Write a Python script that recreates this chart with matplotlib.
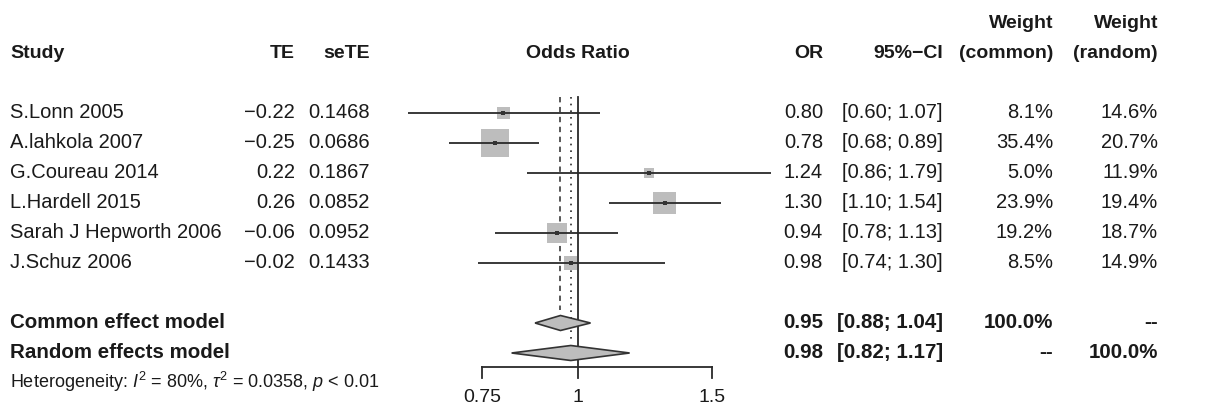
import matplotlib
matplotlib.use("Agg")
import matplotlib.pyplot as plt
import numpy as np

# ---------------- data ----------------
studies = ["S.Lonn 2005", "A.lahkola 2007", "G.Coureau 2014", "L.Hardell 2015",
           "Sarah J Hepworth 2006", "J.Schuz 2006"]
te = ["\u22120.22", "\u22120.25", "0.22", "0.26", "\u22120.06", "\u22120.02"]
sete = ["0.1468", "0.0686", "0.1867", "0.0852", "0.0952", "0.1433"]
or_est = [0.80, 0.78, 1.24, 1.30, 0.94, 0.98]
or_lo = [0.60, 0.68, 0.86, 1.10, 0.78, 0.74]
or_hi = [1.07, 0.89, 1.79, 1.54, 1.13, 1.30]
w_common = [8.1, 35.4, 5.0, 23.9, 19.2, 8.5]
w_random = [14.6, 20.7, 11.9, 19.4, 18.7, 14.9]

common = {"label": "Common effect model", "est": 0.95, "lo": 0.88, "hi": 1.04,
          "wc": "100.0%", "wr": "--"}
random_ = {"label": "Random effects model", "est": 0.98, "lo": 0.82, "hi": 1.17,
           "wc": "--", "wr": "100.0%"}
het_text = r"Heterogeneity: $I^2$ = 80%, $\tau^2$ = 0.0358, $p$ < 0.01"
ticks = [0.75, 1, 1.5]
tick_labels = ["0.75", "1", "1.5"]

# ---------------- style ----------------
plt.rcParams["font.family"] = ["Liberation Sans", "DejaVu Sans"]
plt.rcParams["mathtext.fontset"] = "custom"
plt.rcParams["mathtext.rm"] = "Liberation Sans"
plt.rcParams["mathtext.it"] = "Liberation Sans:italic"
plt.rcParams["mathtext.bf"] = "Liberation Sans:bold"

W, H = 1211, 408
fig = plt.figure(figsize=(W / 100, H / 100), dpi=100)
ax = fig.add_axes([0, 0, 1, 1])
ax.set_xscale("log")
# pixel layout: OR=1 at x=577.5 px, 332 px per log unit; row 0 at y=113 px, 30 px per row
ax.set_xlim(np.exp((0 - 577.5) / 332), np.exp((W - 577.5) / 332))
ax.set_ylim((H - 113) / 30, (0 - 113) / 30)
ax.axis("off")

FS = 14.5
FSH = 14
tc = "#1a1a1a"
lc = "#2a2a2a"
yt = ax.get_yaxis_transform()

def px(x):
    return x / W

col_te, col_se, col_or, col_ci, col_wc, col_wr = px(295), px(370), px(823), px(943), px(1053), px(1158)

# headers
yh = -2.0
hk = dict(va="center", fontsize=FSH, fontweight="bold", color=tc)
ax.text(px(10), yh, "Study", transform=yt, ha="left", **hk)
ax.text(col_te, yh, "TE", transform=yt, ha="right", **hk)
ax.text(col_se, yh, "seTE", transform=yt, ha="right", **hk)
ax.text(1, yh, "Odds Ratio", ha="center", **hk)
ax.text(col_or, yh, "OR", transform=yt, ha="right", **hk)
ax.text(col_ci, yh, "95%\u2212CI", transform=yt, ha="right", **hk)
ax.text(col_wc, yh, "(common)", transform=yt, ha="right", **hk)
ax.text(col_wr, yh, "(random)", transform=yt, ha="right", **hk)
ax.text(col_wc, yh - 1, "Weight", transform=yt, ha="right", **hk)
ax.text(col_wr, yh - 1, "Weight", transform=yt, ha="right", **hk)

n = len(studies)
ys = np.arange(n)
y_top = -0.53
y_common = n + 1
y_random = n + 2
y_axis = 8.47

# reference lines
ax.plot([1, 1], [y_top, y_axis], color=lc, lw=1.3, zorder=1)
ax.plot([common["est"]] * 2, [y_top, y_common - 0.45], color=lc, lw=1.1, dashes=(3.5, 3), zorder=1)
ax.plot([random_["est"]] * 2, [y_top, y_random - 0.45], color=lc, lw=1.2, dashes=(1, 3), zorder=1)

# studies
bk = dict(va="center", fontsize=FS, color=tc)
for i in range(n):
    y = ys[i]
    ax.text(px(10), y, studies[i], transform=yt, ha="left", **bk)
    ax.text(col_te, y, te[i], transform=yt, ha="right", **bk)
    ax.text(col_se, y, sete[i], transform=yt, ha="right", **bk)
    ax.text(col_or, y, f"{or_est[i]:.2f}", transform=yt, ha="right", **bk)
    ax.text(col_ci, y, f"[{or_lo[i]:.2f}; {or_hi[i]:.2f}]", transform=yt, ha="right", **bk)
    ax.text(col_wc, y, f"{w_common[i]:.1f}%", transform=yt, ha="right", **bk)
    ax.text(col_wr, y, f"{w_random[i]:.1f}%", transform=yt, ha="right", **bk)

ax.scatter(or_est, ys, s=np.array(w_common) * 10.8, marker="s", color="#bdbdbd", edgecolor="none", zorder=2)
ax.hlines(ys, or_lo, or_hi, color=lc, lw=1.3, zorder=3)
ax.scatter(or_est, ys, s=9, marker="s", color="#333333", edgecolor="none", zorder=4)

# pooled estimates
pk = dict(va="center", fontsize=14.8, fontweight="bold", color=tc)
for m, y in ((common, y_common), (random_, y_random)):
    ax.text(px(10), y, m["label"], transform=yt, ha="left", **pk)
    ax.text(col_or, y, f"{m['est']:.2f}", transform=yt, ha="right", **pk)
    ax.text(col_ci, y, f"[{m['lo']:.2f}; {m['hi']:.2f}]", transform=yt, ha="right", **pk)
    ax.text(col_wc, y, m["wc"], transform=yt, ha="right", **pk)
    ax.text(col_wr, y, m["wr"], transform=yt, ha="right", **pk)
    hh = 0.25
    ax.fill([m["lo"], m["est"], m["hi"], m["est"]], [y, y - hh, y, y + hh],
            facecolor="#bdbdbd", edgecolor="#333333", lw=1.2, zorder=3)

ax.text(px(10), 8.97, het_text, transform=yt, ha="left", va="center", fontsize=13, color=tc)

# x axis
ax.plot([ticks[0], ticks[-1]], [y_axis, y_axis], color=lc, lw=1.3)
for t, lab in zip(ticks, tick_labels):
    ax.plot([t, t], [y_axis, y_axis + 0.35], color=lc, lw=1.3)
    ax.text(t, 9.5, lab, ha="center", va="center", fontsize=14, color=tc)

fig.savefig("out.png", dpi=100)
